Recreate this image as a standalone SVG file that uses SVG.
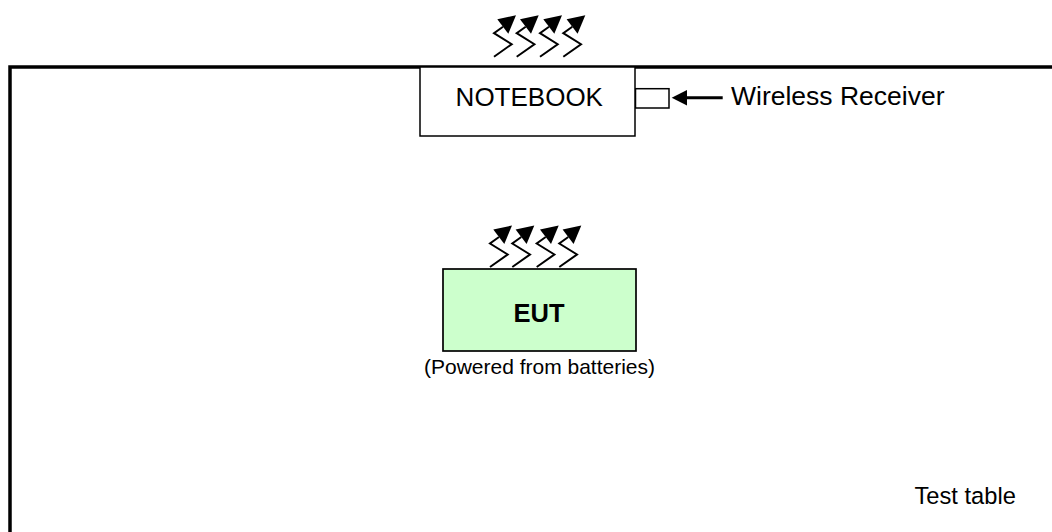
<svg xmlns="http://www.w3.org/2000/svg" xmlns:xlink="http://www.w3.org/1999/xlink" width="1052" height="532" viewBox="0 0 1052 532">
<style>
text{font-family:"Liberation Sans",Arial,sans-serif;fill:#000}
.box{fill:#fff;stroke:#000;stroke-width:1.5}
.zig{fill:none;stroke:#000;stroke-width:2}
.head{fill:#000}
</style>
<defs>
<g id="bolt"><polyline class="zig" points="0,30.5 17.7,18 0,7 9,0.5"/><polygon class="head" points="22,-11 3.3,-7 14.3,7.5"/></g>
</defs>
<rect width="1052" height="532" fill="#fff"/>
<g id="table">
<path d="M10 532V67H1052" fill="none" stroke="#000" stroke-width="3.5"/>
<text x="914.5" y="503.5" font-size="23.7">Test table</text>
</g>
<g id="receiver"><rect class="box" x="635.5" y="88.7" width="33.5" height="19.3"/></g>
<g id="notebook">
<rect class="box" x="420" y="67" width="215" height="69"/>
<text x="529.3" y="105.5" font-size="26" text-anchor="middle">NOTEBOOK</text>
</g>
<g id="receiver-label"><text x="731" y="105" font-size="26.5">Wireless Receiver</text></g>
<g id="eut">
<rect x="443" y="269" width="193" height="82" fill="#ccffcc" stroke="#000" stroke-width="1.7"/>
<text x="539" y="321.5" font-size="25.5" font-weight="bold" text-anchor="middle">EUT</text>
<text x="539.5" y="374" font-size="21" text-anchor="middle">(Powered from batteries)</text>
</g>
<g id="connectors">
<line x1="722.7" y1="97.7" x2="685" y2="97.7" stroke="#000" stroke-width="3"/>
<polygon points="671.7,97.7 687,90 687,105.5" fill="#000"/>
</g>
<g id="signal-top">
<use xlink:href="#bolt" href="#bolt" x="494" y="26.2"/>
<use xlink:href="#bolt" href="#bolt" x="516.7" y="26.2"/>
<use xlink:href="#bolt" href="#bolt" x="540" y="26.2"/>
<use xlink:href="#bolt" href="#bolt" x="563.3" y="26.2"/>
</g>
<g id="signal-eut">
<use xlink:href="#bolt" href="#bolt" x="490" y="236.5"/>
<use xlink:href="#bolt" href="#bolt" x="512.3" y="236.5"/>
<use xlink:href="#bolt" href="#bolt" x="536.7" y="236.5"/>
<use xlink:href="#bolt" href="#bolt" x="559.3" y="236.5"/>
</g>
</svg>
